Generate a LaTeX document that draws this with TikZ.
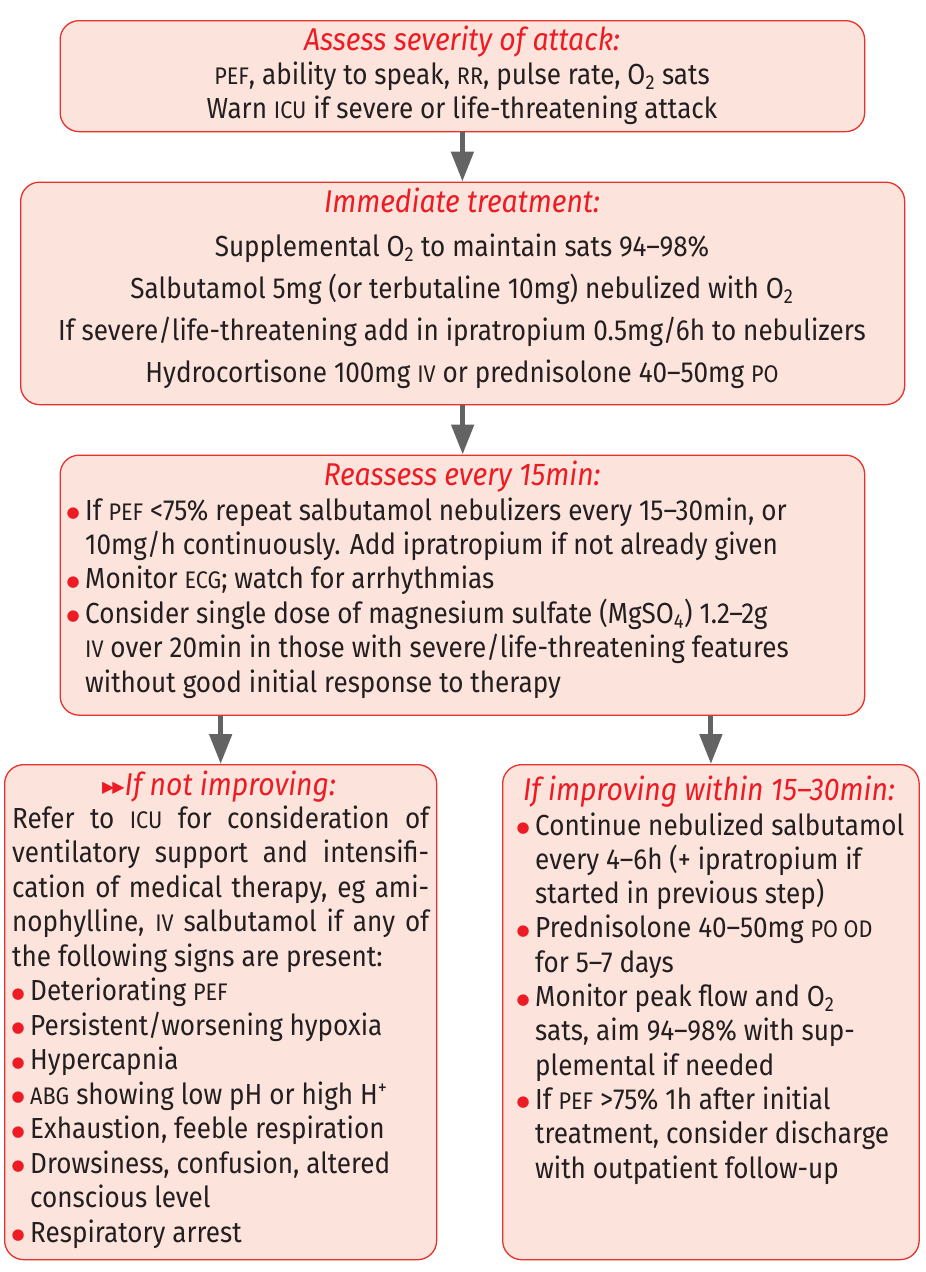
\documentclass[tikz,border=0pt]{standalone}
\usepackage{fontspec}
\setmainfont{Fira Sans}[FakeStretch=0.9]
\newfontfamily\dejavu{DejaVu Sans}
\usetikzlibrary{arrows.meta}
\definecolor{bred}{HTML}{E8312C}
\definecolor{tred}{HTML}{ED1C24}
\definecolor{bfill}{HTML}{FCE3DB}
\definecolor{tdark}{HTML}{231F20}
\definecolor{agray}{HTML}{636363}
\newcommand\sca[1]{{\fontsize{24}{24}\selectfont #1}}
\newcommand\bul{\llap{{\color{tred}\dejavu\fontsize{15}{15}\selectfont\raisebox{2.5pt}{●}}\kern5.5pt}}
\newcommand\cl[1]{\hbox to 0pt{\hss#1\hss}}
\newcommand\hd{\color{tred}\itshape\fontsize{31.5}{34}\selectfont}
\newcommand\tri{{\color{tred}\dejavu\fontsize{16}{16}\selectfont\raisebox{3pt}{▶\kern-2pt▶}}}
\tikzset{
  box/.style={draw=bred, line width=1.3pt, fill=bfill, rounded corners=19pt, inner sep=0pt, anchor=north west},
  arr/.style={draw=agray, line width=5pt, -{Triangle[width=22pt,length=30pt]}},
  txt/.style={inner sep=0pt, text=tdark, font=\fontsize{29}{34}\selectfont}
}
\begin{document}
\begin{tikzpicture}[x=1pt,y=-1pt]
\useasboundingbox (0,0) rectangle (926,1272);
% boxes
\node[box, minimum width=804.5pt, minimum height=111pt] (b1) at (59.5,20) {};
\node[box, minimum width=884pt, minimum height=222.5pt] (b2) at (20,181.5) {};
\node[box, minimum width=804.5pt, minimum height=260pt] (b3) at (59.5,454.5) {};
\node[box, minimum width=432pt, minimum height=495pt] (b4) at (4,764) {};
\node[box, minimum width=416.5pt, minimum height=495pt] (b5) at (502,764) {};
% arrows
\draw[arr] (b1.south) -- (b1.south |- b2.north);
\draw[arr] (b2.south) -- (b2.south |- b3.north);
\draw[arr] (b4.north |- b3.south) -- (b4.north);
\draw[arr] (b5.north |- b3.south) -- (b5.north);
% box 1
\node[txt, anchor=base] (t1) at (462,50) {\vtop{\baselineskip=34pt
  \cl{\hd Assess severity of attack:}
  \cl{\sca{PEF}, ability to speak, \sca{RR}, pulse rate, O\textsubscript{2} sats}
  \cl{Warn \sca{ICU} if severe or life-threatening attack}}};
% box 2
\node[txt, anchor=base] (h2) at (462,212) {\hd Immediate treatment:};
\node[txt, anchor=base] (t2) at (462,256) {\vtop{\baselineskip=42pt
  \cl{Supplemental O\textsubscript{2} to maintain sats 94–98\%}
  \cl{Salbutamol 5mg (or terbutaline 10mg) nebulized with O\textsubscript{2}}
  \cl{If severe/life-threatening add in ipratropium 0.5mg/6h to nebulizers}
  \cl{Hydrocortisone 100mg \sca{IV} or prednisolone 40–50mg \sca{PO}}}};
% box 3
\node[txt, anchor=base] (h3) at (462,485) {\hd Reassess every 15min:};
\node[txt, anchor=base west] (t3) at (85,520) {\vtop{\baselineskip=34.4pt
  \hbox{\bul If \sca{PEF} <75\% repeat salbutamol nebulizers every 15–30min, or}
  \hbox{10mg/h continuously. Add ipratropium if not already given}
  \hbox{\bul Monitor \sca{ECG}; watch for arrhythmias}
  \hbox{\bul Consider single dose of magnesium sulfate (MgSO\textsubscript{4}) 1.2–2g}
  \hbox{\sca{IV} over 20min in those with severe/life-threatening features}
  \hbox{without good initial response to therapy}}};
% box 4
\node[txt, anchor=base] (h4) at (219,795) {\tri{\hd If not improving:}};
\node[txt, anchor=base west] (t4) at (12,828) {\vtop{\baselineskip=34.5pt
  \hbox to 417pt{Refer to \sca{ICU} for consideration of}
  \hbox to 417pt{ventilatory support and intensifi-}
  \hbox to 417pt{cation of medical therapy, eg ami-}
  \hbox to 417pt{nophylline, \sca{IV} salbutamol if any of}
  \hbox{the following signs are present:}
  \hbox{\kern18pt\bul Deteriorating \sca{PEF}}
  \hbox{\kern18pt\bul Persistent/worsening hypoxia}
  \hbox{\kern18pt\bul Hypercapnia}
  \hbox{\kern18pt\bul \sca{ABG} showing low pH or high H\textsuperscript{+}}
  \hbox{\kern18pt\bul Exhaustion, feeble respiration}
  \hbox{\kern18pt\bul Drowsiness, confusion, altered}
  \hbox{\kern18pt conscious level}
  \hbox{\kern18pt\bul Respiratory arrest}}};
% box 5
\node[txt, anchor=base] (h5) at (709,800) {\hd If improving within 15–30min:};
\node[txt, anchor=base west] (t5) at (535,835) {\vtop{\baselineskip=34.3pt
  \hbox{\bul Continue nebulized salbutamol}
  \hbox{every 4–6h (+ ipratropium if}
  \hbox{started in previous step)}
  \hbox{\bul Prednisolone 40–50mg \sca{PO OD}}
  \hbox{for 5–7 days}
  \hbox{\bul Monitor peak flow and O\textsubscript{2}}
  \hbox{sats, aim 94–98\% with sup-}
  \hbox{plemental if needed}
  \hbox{\bul If \sca{PEF} >75\% 1h after initial}
  \hbox{treatment, consider discharge}
  \hbox{with outpatient follow-up}}};
\end{tikzpicture}
\end{document}
